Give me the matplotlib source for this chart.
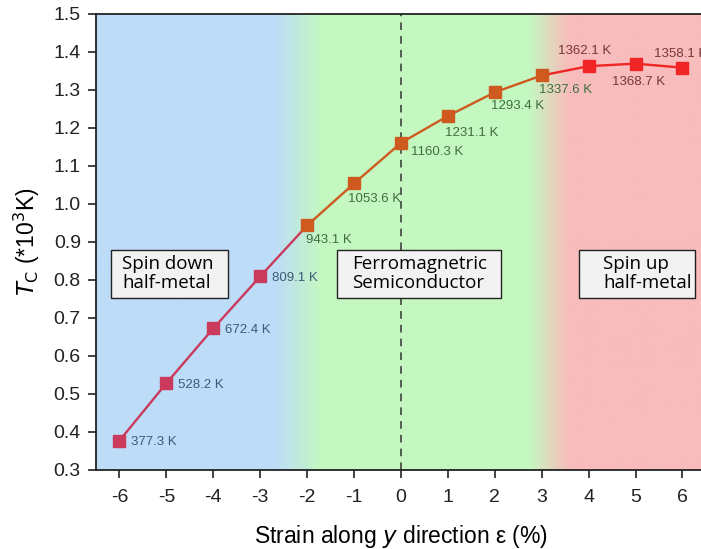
import numpy as np
import matplotlib.pyplot as plt
from matplotlib.colors import LinearSegmentedColormap
from matplotlib.patches import Rectangle

# --- data ---
strain = [-6, -5, -4, -3, -2, -1, 0, 1, 2, 3, 4, 5, 6]
tc_kelvin = [377.3, 528.2, 672.4, 809.1, 943.1, 1053.6, 1160.3,
             1231.1, 1293.4, 1337.6, 1362.1, 1368.7, 1358.1]
phase = ["down", "down", "down", "down", "fm", "fm", "fm",
         "fm", "fm", "fm", "up", "up", "up"]
region_labels = ["Spin down\nhalf-metal", "Ferromagnetric\nSemiconductor", "Spin up\nhalf-metal"]
xticks = list(range(-6, 7))
yticks = [0.3, 0.4, 0.5, 0.6, 0.7, 0.8, 0.9, 1.0, 1.1, 1.2, 1.3, 1.4, 1.5]

tc = np.array(tc_kelvin) / 1000.0

marker_col = {"down": "#c93a5c", "fm": "#cf5a1f", "up": "#f02525"}
label_col = {"down": "#3e5a76", "fm": "#3f6e3f", "up": "#7a3434"}

fig = plt.figure(figsize=(7.01, 5.49), dpi=100)
ax = fig.add_axes([0.137, 0.144, 0.870, 0.831])

xlo, xhi = -6.5, 6.5
ylo, yhi = 0.3, 1.5

# --- background: blue -> green -> pink ---
bg = LinearSegmentedColormap.from_list("bg", [
    (0.0, "#bddcf8"),
    ((-2.7 - xlo) / (xhi - xlo), "#bddcf8"),
    ((-1.7 - xlo) / (xhi - xlo), "#c4f8c0"),
    ((2.75 - xlo) / (xhi - xlo), "#c4f8c0"),
    ((3.6 - xlo) / (xhi - xlo), "#f8bcbc"),
    (1.0, "#f8bcbc"),
])
grad = np.linspace(0, 1, 600).reshape(1, -1)
ax.imshow(grad, cmap=bg, extent=[xlo, xhi, ylo, yhi], aspect="auto", zorder=0)

ax.axvline(0, color="#333333", lw=1.1, ls=(0, (5, 4)), zorder=1)

# --- line segments + markers ---
for i in range(len(strain) - 1):
    c = marker_col[phase[i]] if phase[i] == phase[i + 1] else marker_col[phase[i] if phase[i] == "down" else phase[i + 1]]
    ax.plot(strain[i:i + 2], tc[i:i + 2], color=c, lw=1.7, zorder=2)
for x, y, p in zip(strain, tc, phase):
    ax.plot(x, y, "s", color=marker_col[p], ms=8.5, zorder=3)

# --- value labels ---
offsets = [(0.25, -0.005), (0.25, -0.005), (0.25, -0.005), (0.25, -0.005),
           (-0.02, -0.038), (-0.13, -0.040), (0.22, -0.025), (-0.06, -0.045),
           (-0.08, -0.037), (-0.06, -0.037), (-0.66, 0.040), (-0.50, -0.048),
           (-0.60, 0.037)]
for (x, y, p), (dx, dy) in zip(zip(strain, tc, phase), offsets):
    ax.text(x + dx, y + dy, f"{y * 1000:.1f} K", color=label_col[p],
            fontsize=9.5, ha="left", va="center", family="Liberation Sans", zorder=4)

# --- region boxes ---
boxes = [(-6.19, -3.68, 0.25), (-1.36, 2.13, 0.32), (3.79, 6.26, 0.52)]
for (x0, x1, tx), txt in zip(boxes, region_labels):
    ax.add_patch(Rectangle((x0, 0.753), x1 - x0, 0.879 - 0.753, facecolor="#f2f2f2",
                           edgecolor="#222222", lw=1.0, zorder=5))
    ax.text(x0 + tx, 0.816, txt, fontsize=13.5, family="Open Sans",
            ha="left", va="center", linespacing=1.05, zorder=6)

ax.set_xlim(xlo, xhi)
ax.set_ylim(ylo, yhi)
ax.set_xticks(xticks)
ax.set_xticklabels([str(t) for t in xticks])
ax.set_yticks(yticks)
ax.set_yticklabels([f"{t:.1f}" for t in yticks])
ax.tick_params(direction="out", length=6, width=1.2, labelsize=14,
               colors="#222222")
ax.tick_params(axis="x", pad=8)
ax.tick_params(axis="y", pad=5)
for lbl in ax.get_xticklabels() + ax.get_yticklabels():
    lbl.set_family("Liberation Sans")
for s in ax.spines.values():
    s.set_linewidth(1.3)
    s.set_color("#222222")

ax.set_xlabel("Strain along $\\it{y}$ direction ε (%)", fontsize=16.5,
              family="Liberation Sans", labelpad=12)
ax.set_ylabel("$\\it{T}_\\mathrm{C}$ (*10$^3$K)", fontsize=16.5,
              family="Liberation Sans", labelpad=8)

fig.savefig("out.png", dpi=100)
